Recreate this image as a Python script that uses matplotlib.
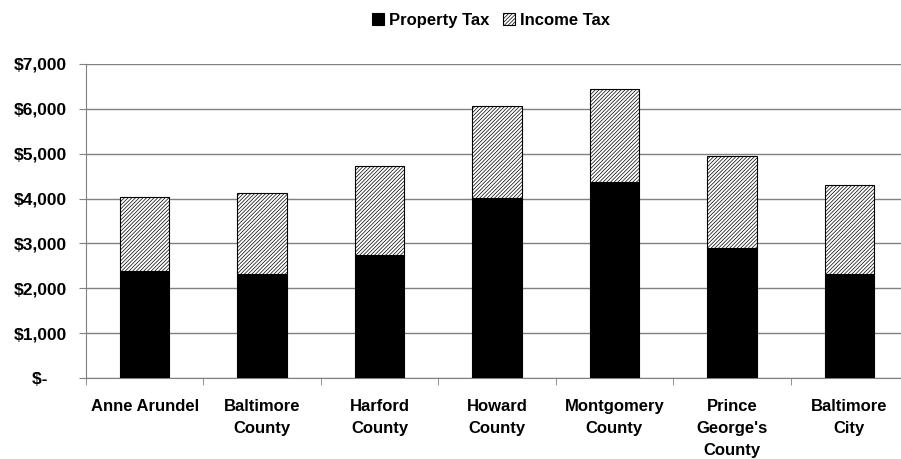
import numpy as np
import matplotlib
matplotlib.use('Agg')
import matplotlib.pyplot as plt

# Данные
counties = ['Anne Arundel', 'Baltimore\nCounty', 'Harford\nCounty', 'Howard\nCounty',
            'Montgomery\nCounty', "Prince\nGeorge's\nCounty", 'Baltimore\nCity']
property_tax = [2390, 2310, 2750, 4020, 4370, 2900, 2320]
income_tax_total = [4030, 4130, 4730, 6070, 6440, 4960, 4310]
income_tax = [t - p for t, p in zip(income_tax_total, property_tax)]
y_ticks = [0, 1000, 2000, 3000, 4000, 5000, 6000, 7000]
y_labels = ['$-    ', '$1,000', '$2,000', '$3,000', '$4,000', '$5,000', '$6,000', '$7,000']

plt.rcParams['font.family'] = ['Liberation Sans', 'DejaVu Sans']
plt.rcParams['font.weight'] = 'bold'
plt.rcParams['hatch.linewidth'] = 0.5

fig = plt.figure(figsize=(9.01, 4.59), dpi=100)
ax = fig.add_axes([86 / 901, 81 / 459, 822 / 901, 314 / 459])

x = np.arange(len(counties))
w = 0.42
ax.bar(x, property_tax, w, color='black', edgecolor='black', linewidth=0.8,
       label='Property Tax', zorder=3)
ax.bar(x, income_tax, w, bottom=property_tax, color='white', edgecolor='black',
       hatch='/////////', linewidth=0.8, label='Income Tax', zorder=3)

ax.set_xlim(-0.5, len(counties) - 0.5)
ax.set_ylim(0, 7000)
ax.set_yticks(y_ticks)
ax.set_yticklabels(y_labels, fontsize=12.5, fontweight='bold')
ax.grid(axis='y', color='#808080', linewidth=1, zorder=0)

ax.set_xticks(x)
ax.set_xticklabels(counties, fontsize=12, fontweight='bold', linespacing=1.6, va='top')
ax.set_xticks(np.arange(-0.5, len(counties), 1), minor=True)
ax.tick_params(axis='x', which='major', length=0, pad=15)
ax.tick_params(axis='x', which='minor', length=5, color='#808080', direction='out')
ax.tick_params(axis='y', length=5, color='#808080', direction='out', pad=9)

for s in ['top', 'right']:
    ax.spines[s].set_visible(False)
for s in ['left', 'bottom']:
    ax.spines[s].set_color('#808080')

fig.legend(loc='upper center', bbox_to_anchor=(0.545, 1.005), ncol=2, frameon=False,
           handlelength=0.75, handleheight=0.75, handletextpad=0.3,
           columnspacing=0.8, prop={'weight': 'bold', 'size': 12})

fig.savefig('out.png', dpi=100)
